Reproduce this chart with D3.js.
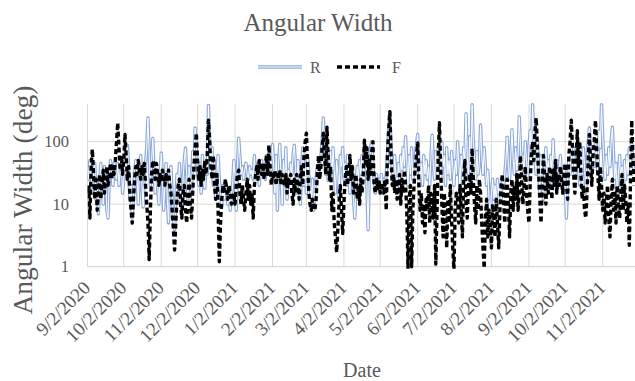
<!DOCTYPE html>
<html>
<head>
<meta charset="utf-8">
<script src="https://cdn.jsdelivr.net/npm/d3@7"></script>
<style>
  body { margin: 0; background: #fff; }
  text { font-family: "Liberation Serif", "DejaVu Serif", serif; fill: #595959; }
</style>
</head>
<body>
<svg id="chart" width="635" height="381"></svg>
<script>
// Daily angular width readings, starting 2 Sep 2020
const startDate = "2020-09-02";
const seriesNames = ["R", "F"];
const tickLabels = ["9/2/2020", "10/2/2020", "11/2/2020", "12/2/2020", "1/2/2021", "2/2/2021",
  "3/2/2021", "4/2/2021", "5/2/2021", "6/2/2021", "7/2/2021", "8/2/2021", "9/2/2021",
  "10/2/2021", "11/2/2021"];
const yTickValues = [1, 10, 100];

const rValues = [
  40,25,50,30,15,35,45,12,20,7,
  20,45,25,10,40,30,8,6,25,50,
  35,20,45,30,25,45,20,35,40,15,
  25,50,30,88,40,12,20,6,15,35,
  50,25,10,40,60,20,9,30,45,80,
  240,60,20,50,113,35,15,30,20,10,
  30,66,25,8,20,45,12,5,25,40,
  15,6,3.9,10,30,20,45,15,8,25,
  50,79,30,12,40,25,15,70,35,165,
  80,30,20,45,15,60,25,18,40,30,
  380,120,40,80,20,50,12,30,60,25,
  15,9,20,12,24,15,10,18,8,14,
  20,50,30,8,40,114,60,30,40,25,
  35,45,30,25,40,30,35,25,60,30,
  25,45,20,35,50,30,40,25,60,45,
  30,50,35,90,40,15,60,8,45,90,
  30,10,50,20,80,12,35,25,45,30,
  60,88,40,15,50,25,10,35,80,20,
  45,15,60,30,20,12,25,8,18,25,
  40,30,45,60,100,240,80,30,90,24,
  40,70,25,80,35,15,50,30,12,60,
  40,80,25,45,20,60,30,15,40,25,
  12,6,20,40,25,50,30,60,40,100,
  60,20,3.9,30,80,100,40,25,15,30,
  20,25,18,30,15,25,20,30,60,150,
  300,80,40,20,60,30,15,45,25,60,
  35,80,40,120,50,20,60,30,80,25,
  40,60,90,130,50,25,45,20,60,30,
  50,25,40,20,60,127,40,25,70,35,
  80,50,25,100,40,60,20,80,30,50,
  25,70,40,20,50,30,100,45,20,60,
  30,80,50,280,60,25,120,40,390,100,
  50,25,70,30,45,185,60,30,80,40,
  20,35,12,6,15,25,12,20,10,25,
  15,20,12,25,18,30,50,118,40,25,
  60,155,50,30,80,35,60,250,80,40,
  60,30,100,50,25,80,150,60,390,120,
  50,30,100,45,15,60,25,12,40,80,
  30,50,20,60,35,107,40,25,50,20,
  35,60,25,15,40,20,6,25,50,30,
  60,40,80,30,50,100,40,20,60,30,
  80,40,15,50,100,165,60,30,80,40,
  100,60,30,150,80,390,120,50,25,60,
  30,80,40,100,170,60,25,45,15,30,
  60,20,40,10,50,25,60,30,80,40,
  100,50,30
];

const fValues = [
  15,20,6,40,75,30,12,25,8,15,
  30,12,20,35,15,25,40,20,30,45,
  25,40,30,50,100,200,80,35,60,30,
  50,130,60,25,40,15,8,5,12,25,
  40,30,50,35,25,40,30,45,20,10,
  5,1.3,8,30,50,40,25,45,30,20,
  30,25,35,28,20,30,25,35,20,15,
  8,4,1.85,5,12,20,25,10,6,15,
  20,8,5,12,25,10,6,15,40,80,
  137,50,25,40,20,35,25,50,30,60,
  220,100,40,25,60,20,12,30,8,1.2,
  5,12,20,15,25,18,12,20,15,10,
  12,15,10,20,30,35,15,10,20,12,
  8,15,25,12,20,10,15,6,20,30,
  40,25,50,35,30,45,25,40,60,30,
  88,40,20,30,25,35,20,30,25,35,
  20,30,25,20,30,15,25,20,30,15,
  10,25,15,30,20,12,25,40,20,60,
  100,137,40,15,10,8,12,10,8,12,
  30,60,25,40,80,137,60,30,170,60,
  25,40,8,15,5,3,1.7,4,10,20,
  8,3.4,10,25,40,20,30,60,25,40,
  15,20,30,12,20,10,25,15,30,105,
  40,80,25,50,30,70,100,20,15,25,
  18,25,15,22,20,15,25,8,60,150,
  300,60,20,30,15,25,12,20,30,10,
  25,15,35,20,8,0.95,12,20,1,8,
  20,40,60,95,20,8,15,5,10,3.5,
  12,8,20,5,15,10,6,20,1.1,8,
  60,200,40,10,3,15,8,2,12,5,
  20,6,2,0.9,8,15,12,5,20,8,
  3,25,50,10,6,20,30,15,78,25,
  10,5,20,8,25,15,5,2,0.95,6,
  12,3,8,5,2,10,6,3,12,5,
  2,8,20,30,12,5,15,25,10,3,
  15,25,8,20,12,30,8,15,60,25,
  10,20,40,15,8,5,20,60,100,50,
  150,240,80,30,12,5,20,60,25,10,
  30,15,40,25,12,35,20,50,15,30,
  20,40,25,15,30,45,20,12,60,100,
  220,80,30,15,50,150,40,100,30,12,
  20,8,6,15,50,130,40,20,60,100,
  220,80,30,12,40,20,8,15,5,10,
  20,6,3,12,25,8,15,5,20,10,
  6,15,30,8,20,12,5,10,2.2,25,
  220,60,20
];

const svg = d3.select("#chart");
const W = 635, H = 381;
const plot = { left: 87.5, top: 104, bottom: 266.7 };

const parseISO = d3.timeParse("%Y-%m-%d");
const parseTick = d3.timeParse("%m/%d/%Y");
const start = parseISO(startDate);
const n = Math.min(rValues.length, fValues.length);
const dates = d3.range(n).map(i => d3.timeDay.offset(start, i));

// about 1.21 px per day; axis runs off the right edge of the canvas
const x = d3.scaleTime()
  .domain([start, d3.timeDay.offset(start, 453)])
  .range([plot.left, plot.left + 453 * 1.2094]);
const y = d3.scaleLog().domain([1, 400]).range([plot.bottom, plot.top]);

// Gridlines
const grid = svg.append("g");
yTickValues.filter(v => v > 1).forEach(v => {
  grid.append("line")
    .attr("x1", plot.left).attr("x2", W)
    .attr("y1", y(v)).attr("y2", y(v))
    .attr("stroke", "#d9d9d9").attr("stroke-width", 1);
});
const tickDates = tickLabels.map(parseTick);
tickDates.forEach(d => {
  grid.append("line")
    .attr("x1", x(d)).attr("x2", x(d))
    .attr("y1", plot.top).attr("y2", plot.bottom)
    .attr("stroke", "#d9d9d9").attr("stroke-width", 1);
});
// x axis line
grid.append("line")
  .attr("x1", plot.left).attr("x2", W)
  .attr("y1", plot.bottom).attr("y2", plot.bottom)
  .attr("stroke", "#d0d0d0").attr("stroke-width", 1);

// Y tick labels
svg.append("g").selectAll("text").data(yTickValues).join("text")
  .attr("x", 69).attr("y", d => y(d))
  .attr("dy", "0.35em")
  .attr("text-anchor", "end")
  .attr("font-size", 16.5)
  .text(d => d3.format("d")(d));

// X tick labels, rotated
svg.append("g").selectAll("text").data(tickLabels).join("text")
  .attr("transform", (d, i) => `translate(${x(tickDates[i]) + 4},${289}) rotate(-45)`)
  .attr("text-anchor", "end")
  .attr("font-size", 19)
  .text(d => d);

// Clip to the plot area
svg.append("defs").append("clipPath").attr("id", "plotClip")
  .append("rect").attr("x", plot.left).attr("y", plot.top - 4)
  .attr("width", W - plot.left).attr("height", plot.bottom - plot.top + 6);

const rData = dates.map((d, i) => ({ date: d, v: rValues[i] }));
const fData = dates.map((d, i) => ({ date: d, v: fValues[i] }));
const line = d3.line().x(d => x(d.date)).y(d => y(d.v));

const marks = svg.append("g").attr("clip-path", "url(#plotClip)");
// R: double (outlined) light-blue line
marks.append("path").datum(rData).attr("d", line)
  .attr("fill", "none").attr("stroke", "#8eaadb").attr("stroke-width", 3.4)
  .attr("stroke-linejoin", "round");
marks.append("path").datum(rData).attr("d", line)
  .attr("fill", "none").attr("stroke", "#ffffff").attr("stroke-width", 1)
  .attr("stroke-linejoin", "round");
// F: heavy black dashed line
marks.append("path").datum(fData).attr("d", line)
  .attr("fill", "none").attr("stroke", "#000").attr("stroke-width", 3.4)
  .attr("stroke-dasharray", "5,3").attr("stroke-linejoin", "round");

// Title
svg.append("text").attr("x", 318).attr("y", 31)
  .attr("text-anchor", "middle").attr("font-size", 25)
  .text("Angular Width");

// Legend
const lg = svg.append("g");
lg.append("line").attr("x1", 258).attr("x2", 302).attr("y1", 67).attr("y2", 67)
  .attr("stroke", "#8eaadb").attr("stroke-width", 3.4);
lg.append("line").attr("x1", 258).attr("x2", 302).attr("y1", 67).attr("y2", 67)
  .attr("stroke", "#fff").attr("stroke-width", 1);
lg.append("text").attr("x", 310).attr("y", 72.5).attr("font-size", 16).text(seriesNames[0]);
lg.append("line").attr("x1", 337).attr("x2", 380).attr("y1", 67).attr("y2", 67)
  .attr("stroke", "#000").attr("stroke-width", 3.4).attr("stroke-dasharray", "5,3");
lg.append("text").attr("x", 392).attr("y", 72.5).attr("font-size", 16).text(seriesNames[1]);

// Axis titles
svg.append("text").attr("x", 362).attr("y", 377)
  .attr("text-anchor", "middle").attr("font-size", 20)
  .text("Date");
svg.append("text").attr("transform", "translate(32,200) rotate(-90)")
  .attr("text-anchor", "middle").attr("font-size", 27.5)
  .text("Angular Width (deg)");
</script>
</body>
</html>
